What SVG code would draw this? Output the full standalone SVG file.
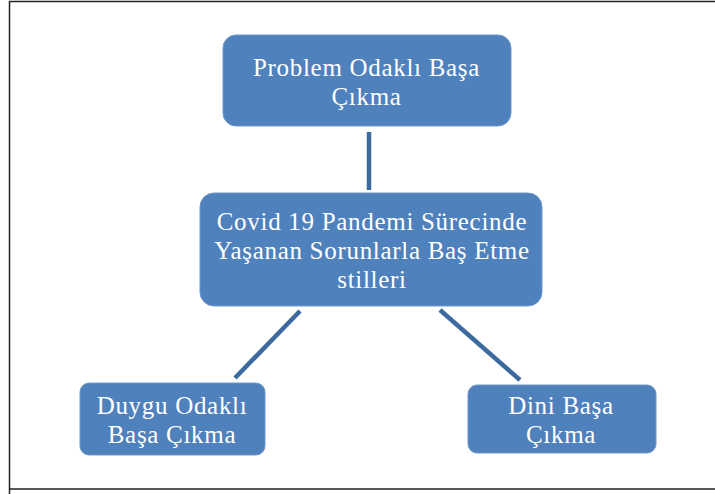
<svg xmlns="http://www.w3.org/2000/svg" width="715" height="494" viewBox="0 0 715 494">
<style>
.box{fill:#4f81bd;stroke:#6f97c9;stroke-width:1}
.t{font-family:"Liberation Serif",serif;font-size:25px;letter-spacing:0.7px;fill:#fff;text-anchor:middle}
.c{stroke:#3d6a9e;stroke-width:4.5;stroke-linecap:butt}
</style>
<rect width="715" height="494" fill="#fff"/>
<path d="M9.5 494 V1.5 H715 M9.5 489 H715" fill="none" stroke="#222" stroke-width="1.5"/>
<g id="connectors">
<line class="c" x1="369" y1="132" x2="369" y2="190"/>
<line class="c" x1="300" y1="311" x2="235" y2="378"/>
<line class="c" x1="440" y1="310" x2="520" y2="380"/>
</g>
<g id="top">
<rect class="box" x="223" y="35" width="288" height="91" rx="13"/>
<text class="t" x="366.5" y="76">Problem Odaklı Başa</text>
<text class="t" x="366.5" y="105">Çıkma</text>
</g>
<g id="center">
<rect class="box" x="200" y="193" width="342" height="113" rx="14"/>
<text class="t" x="372" y="230">Covid 19 Pandemi Sürecinde</text>
<text class="t" x="372" y="259">Yaşanan Sorunlarla Baş Etme</text>
<text class="t" x="372" y="288">stilleri</text>
</g>
<g id="left">
<rect class="box" x="80" y="383" width="185" height="72" rx="9"/>
<text class="t" x="172" y="414">Duygu Odaklı</text>
<text class="t" x="172" y="442.5">Başa Çıkma</text>
</g>
<g id="right">
<rect class="box" x="468" y="385" width="188" height="68" rx="9"/>
<text class="t" x="561" y="414">Dini Başa</text>
<text class="t" x="561" y="442.5">Çıkma</text>
</g>
</svg>
